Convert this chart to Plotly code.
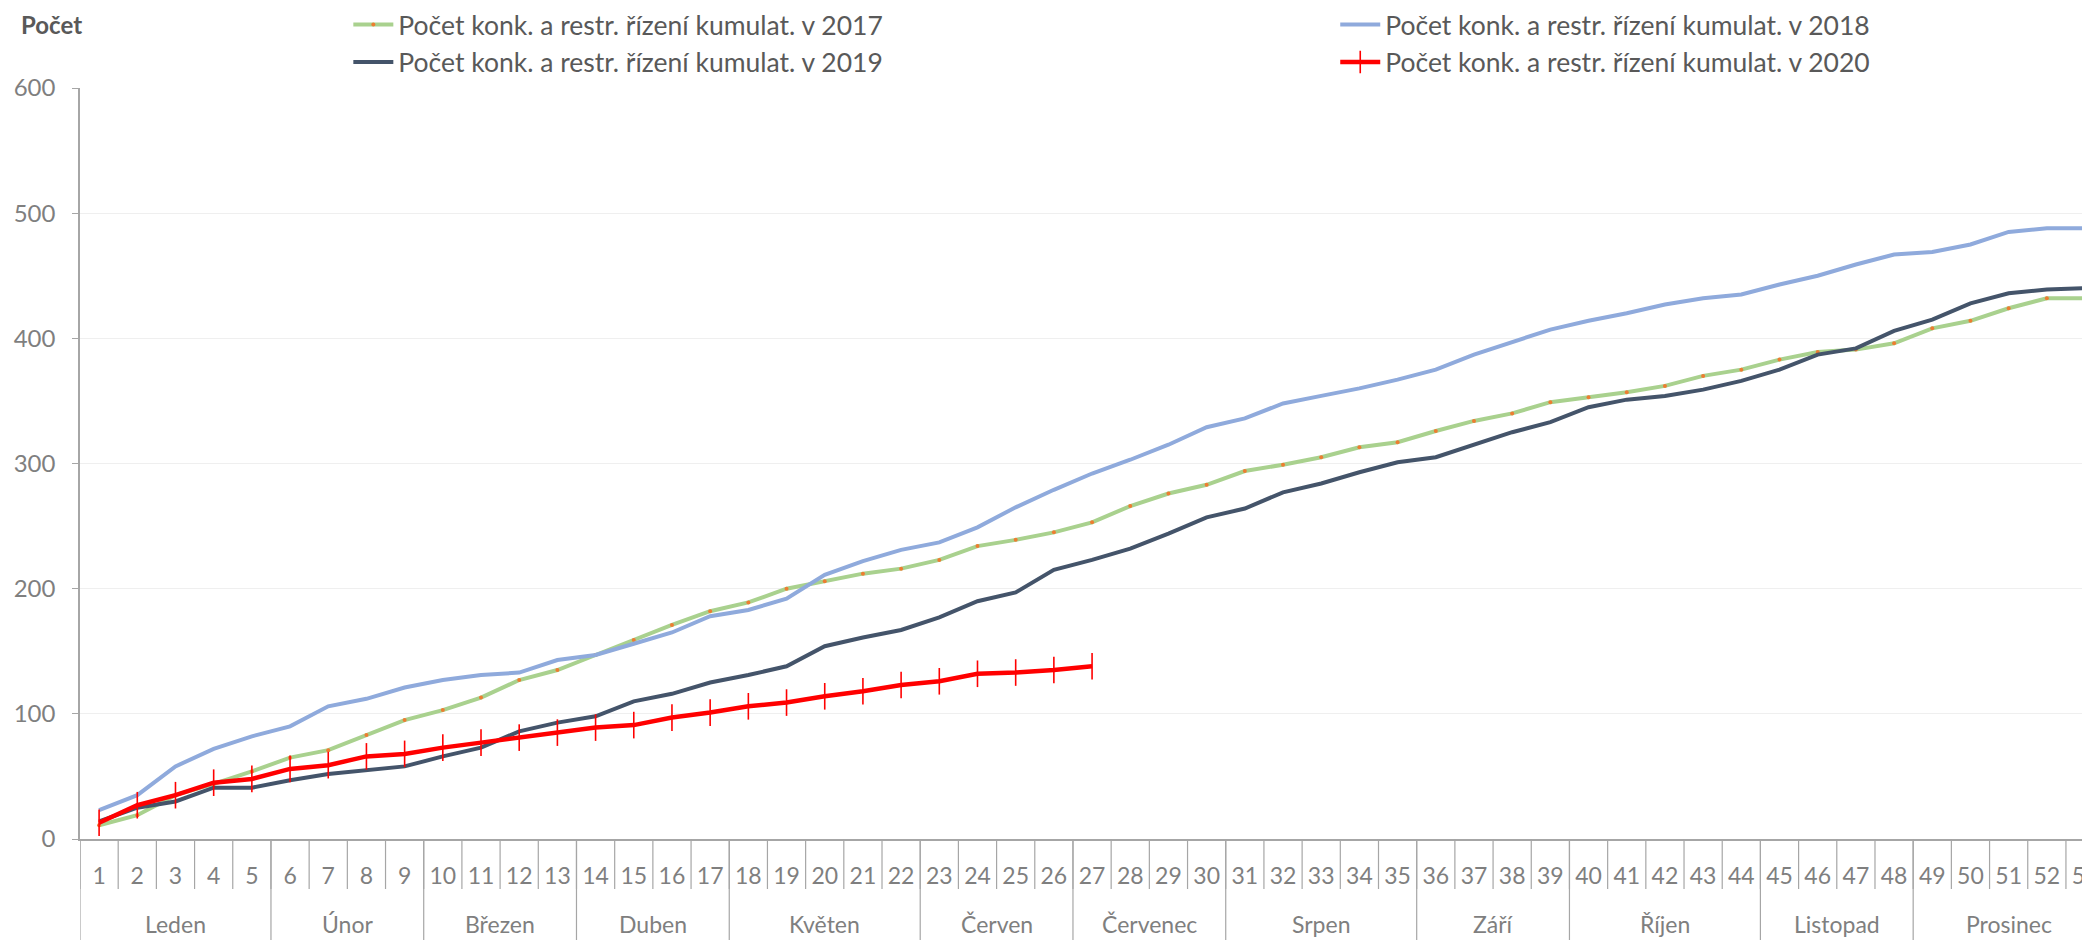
import plotly.graph_objects as go

# ---- data ----
weeks = list(range(1, 54))
months = ["Leden", "Únor", "Březen", "Duben", "Květen", "Červen", "Červenec",
          "Srpen", "Září", "Říjen", "Listopad", "Prosinec"]
month_lengths = [5, 4, 4, 4, 5, 4, 4, 5, 4, 5, 4, 5]

y2017 = [11, 19, 35, 44, 54, 65, 71, 83, 95, 103, 113, 127, 135, 147, 159, 171, 182,
         189, 200, 206, 212, 216, 223, 234, 239, 245, 253, 266, 276, 283, 294, 299,
         305, 313, 317, 326, 334, 340, 349, 353, 357, 362, 370, 375, 383, 389, 391,
         396, 408, 414, 424, 432, 432]
y2018 = [23, 35, 58, 72, 82, 90, 106, 112, 121, 127, 131, 133, 143, 147, 156, 165, 178,
         183, 192, 211, 222, 231, 237, 249, 265, 279, 292, 303, 315, 329, 336, 348,
         354, 360, 367, 375, 387, 397, 407, 414, 420, 427, 432, 435, 443, 450, 459,
         467, 469, 475, 485, 488, 488]
y2019 = [14, 25, 30, 41, 41, 47, 52, 55, 58, 66, 73, 86, 93, 98, 110, 116, 125,
         131, 138, 154, 161, 167, 177, 190, 197, 215, 223, 232, 244, 257, 264, 277,
         284, 293, 301, 305, 315, 325, 333, 345, 351, 354, 359, 366, 375, 387, 392,
         406, 415, 428, 436, 439, 440]
y2020 = [13, 27, 35, 45, 48, 56, 59, 66, 68, 73, 77, 81, 85, 89, 91, 97, 101,
         106, 109, 114, 118, 123, 126, 132, 133, 135, 138]

names = ["Počet konk. a restr. řízení kumulat. v 2017",
         "Počet konk. a restr. řízení kumulat. v 2018",
         "Počet konk. a restr. řízení kumulat. v 2019",
         "Počet konk. a restr. řízení kumulat. v 2020"]

FONT = "Lato, Open Sans, sans-serif"
GRAY = "#595959"
TICKGRAY = "#7F7F7F"
AXGRAY = "#A6A6A6"

# layout geometry (figure px); page has an 8px body margin
ML, MR, MT, MB = 72, 8, 80, 109
PLOT_H = 940 - MT - MB
WEEK_SEP = 50 / PLOT_H     # week separator length below axis (paper units)
MONTH_SEP = 105 / PLOT_H   # month divider length
MONTH_LABEL_Y = -85 / PLOT_H

fig = go.Figure()
fig.add_trace(go.Scatter(
    x=weeks[:len(y2017)], y=y2017, name=names[0], mode="lines+markers",
    line=dict(color="#A9D18E", width=4),
    marker=dict(color="#ED7D31", size=4), legend="legend"))
fig.add_trace(go.Scatter(
    x=weeks[:len(y2018)], y=y2018, name=names[1], mode="lines",
    line=dict(color="#8FAADC", width=4), legend="legend2"))
fig.add_trace(go.Scatter(
    x=weeks[:len(y2019)], y=y2019, name=names[2], mode="lines",
    line=dict(color="#44546A", width=4), legend="legend"))
fig.add_trace(go.Scatter(
    x=weeks[:len(y2020)], y=y2020, name=names[3], mode="lines+markers",
    line=dict(color="#FF0000", width=4.5),
    marker=dict(symbol="line-ns", size=19, line=dict(color="#FF0000", width=1.6)),
    legend="legend2"))

# separators under the category axis
shapes = []
for w in weeks:
    shapes.append(dict(type="line", xref="x", yref="paper",
                       x0=w - 0.5, x1=w - 0.5, y0=0, y1=-WEEK_SEP,
                       line=dict(color=AXGRAY, width=1.2)))
annotations = []
start = 0.5
for m, n in zip(months, month_lengths):
    shapes.append(dict(type="line", xref="x", yref="paper",
                       x0=start, x1=start, y0=0, y1=-MONTH_SEP,
                       line=dict(color=AXGRAY, width=1.2)))
    annotations.append(dict(text=m, xref="x", yref="paper", x=start + n / 2,
                            y=MONTH_LABEL_Y, xanchor="center", yanchor="middle",
                            showarrow=False,
                            font=dict(family=FONT, size=23, color=TICKGRAY)))
    start += n
shapes.append(dict(type="line", xref="x", yref="paper",
                   x0=start, x1=start, y0=0, y1=-MONTH_SEP,
                   line=dict(color=AXGRAY, width=1.2)))

annotations.append(dict(text="<b>Počet</b>", xref="paper", yref="paper",
                        x=-0.0305, y=1.085, xanchor="left", yanchor="middle",
                        showarrow=False,
                        font=dict(family=FONT, size=24, color=GRAY)))

legend_common = dict(orientation="v", yanchor="top", xanchor="left",
                     font=dict(family=FONT, size=26.5, color=GRAY),
                     bgcolor="rgba(0,0,0,0)", itemwidth=40, tracegroupgap=0)

fig.update_layout(
    width=2090, height=940,
    margin=dict(l=ML, r=MR, t=MT, b=MB, autoexpand=False),
    paper_bgcolor="white", plot_bgcolor="white",
    font=dict(family=FONT, color=GRAY),
    legend=dict(x=0.1335, y=1.116, **legend_common),
    legend2=dict(x=0.6245, y=1.116, **legend_common),
    showlegend=True,
    xaxis=dict(
        range=[0.5, 53.13],
        tickmode="array", tickvals=weeks, ticktext=[str(w) for w in weeks],
        showline=True, linecolor=AXGRAY, linewidth=1.5,
        ticks="", ticklabelstandoff=16, ticklabeloverflow="allow",
        tickfont=dict(family=FONT, size=23, color=TICKGRAY),
        showgrid=False, zeroline=False,
    ),
    yaxis=dict(
        range=[0, 600], dtick=100,
        showline=True, linecolor=AXGRAY, linewidth=1.5,
        ticks="outside", ticklen=6, tickcolor=AXGRAY,
        showgrid=True, gridcolor="#EFEFEF", gridwidth=1,
        zeroline=False,
        tickfont=dict(family=FONT, size=24, color=TICKGRAY),
        ticklabelstandoff=12,
    ),
    shapes=shapes,
    annotations=annotations,
)

fig.write_html("out.html")
